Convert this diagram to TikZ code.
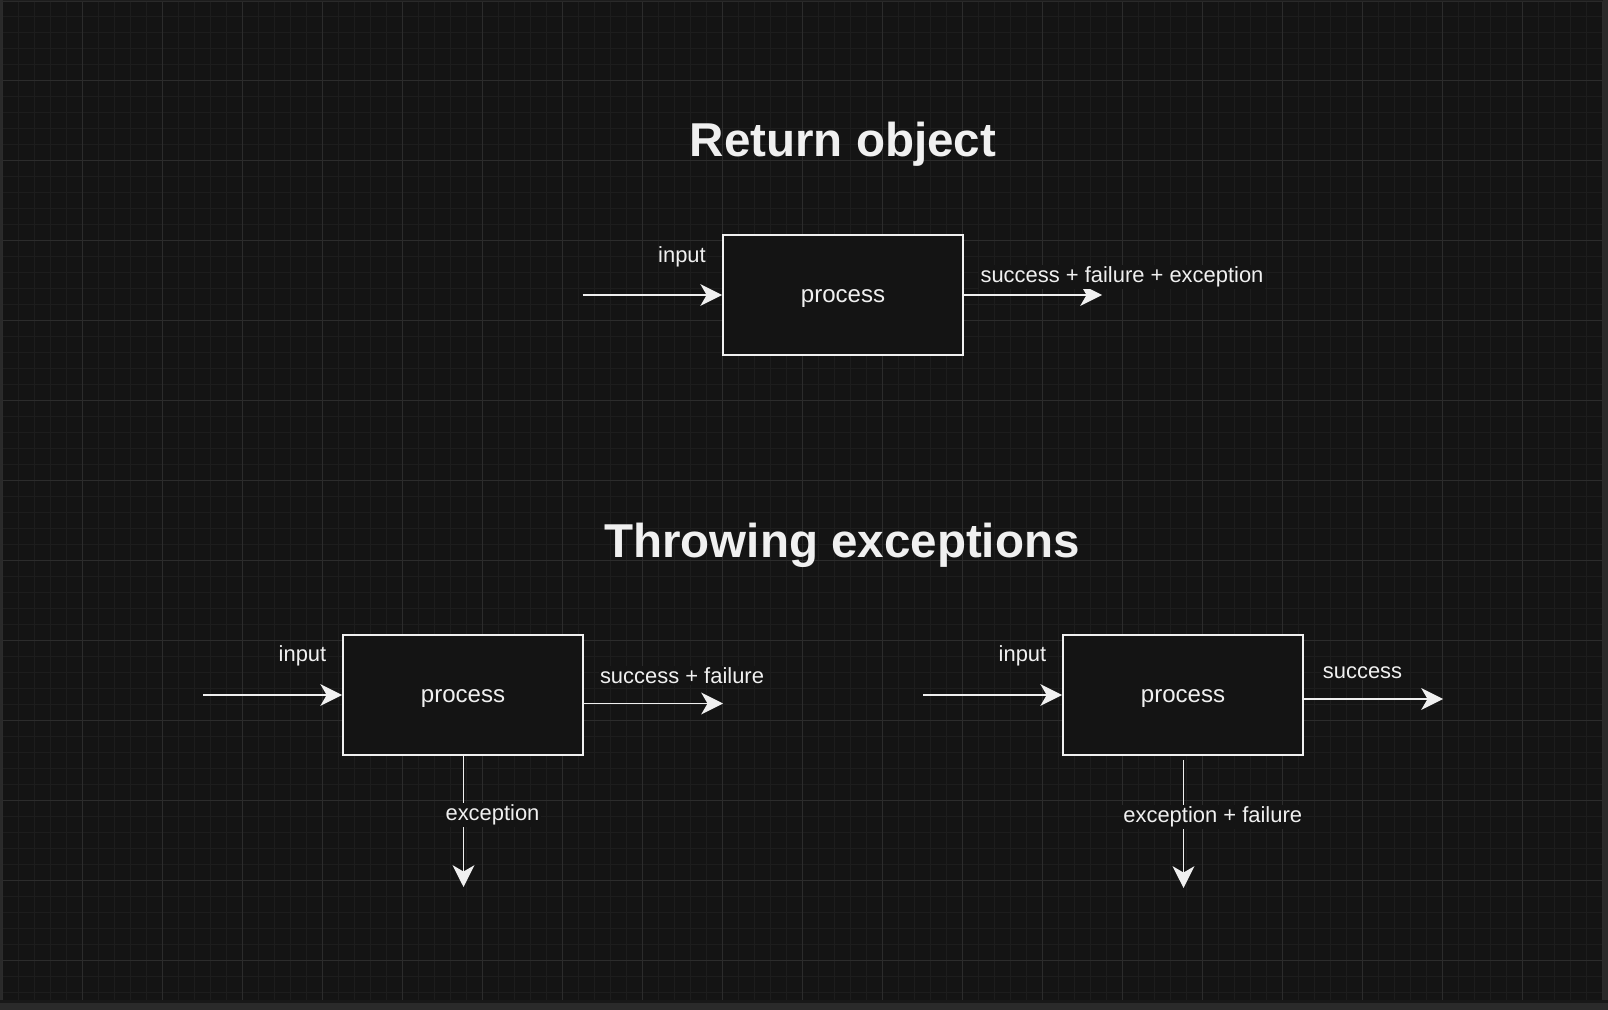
\documentclass[tikz,border=0pt]{standalone}
\usepackage{fontspec}
\setmainfont{Liberation Sans}
\usepackage{tikz}
\usetikzlibrary{arrows.meta}
\usetikzlibrary{positioning}
\definecolor{canvas}{RGB}{20,20,20}
\definecolor{frame}{RGB}{42,42,42}
\definecolor{seam}{RGB}{24,24,24}
\definecolor{minorcol}{RGB}{29,29,29}
\definecolor{majorcol}{RGB}{44,44,44}
\definecolor{ink}{RGB}{240,240,240}
\tikzset{procbox/.style={rectangle,draw=ink,fill=canvas,line width=1.2pt,minimum width=6cm,minimum height=3cm,text height=10.5pt,text depth=0pt,text=ink,font=\fontsize{17.1}{20}\selectfont}}
\tikzset{flow/.style={ink,line width=1.2pt,-{Stealth[length=15.5pt,width=15.5pt,inset=4.5pt]}}}
\tikzset{lbl/.style={text=ink,inner sep=1pt,font=\fontsize{15.6}{18}\selectfont}}
\tikzset{edgelbl/.style={lbl,fill=canvas}}
\tikzset{title/.style={text=ink,anchor=base,font=\fontsize{33.8}{40}\selectfont\bfseries}}
\tikzset{minorline/.style={minorcol,line width=0.7pt}}
\tikzset{majorline/.style={majorcol,line width=0.8pt}}

\begin{document}
\begin{tikzpicture}[x=0.025cm,y=-0.025cm]
  \useasboundingbox (0,0) rectangle (1608,1010);
  % Canvas
  \fill[frame] (0,0) rectangle (1608,1010);
  \fill[canvas] (2.7,2) rectangle (1603,1000);
  \fill[seam] (0,1000) rectangle (1608,1003);
  \foreach \i in {0,...,100}
    \draw[minorline] ({2.7+16*\i},2) -- ({2.7+16*\i},1000);
  \foreach \j in {0,...,62}
    \draw[minorline] (2.7,{0.7+16*\j}) -- (1603,{0.7+16*\j});
  \foreach \i in {0,...,20}
    \draw[majorline] ({2.7+80*\i},2) -- ({2.7+80*\i},1000);
  \foreach \j in {1,...,12}
    \draw[majorline] (2.7,{0.7+80*\j}) -- (1603,{0.7+80*\j});

  % Titles
  \node[title] (rettitle) at (843,157) {Return object};
  \node[title] (throwtitle) at (842,557) {Throwing exceptions};

  % Return object
  \node[procbox] (ret) at (843,295) {process};
  \coordinate (retin) at (582.5,295);
  \coordinate (retout) at (1102,295);
  \draw[flow] (retin) -- (ret.west);
  \draw[flow] (ret.east) -- (retout);
  \node[lbl] (retinlbl) at (682,257) {input};
  \node[edgelbl] (retoutlbl) at (1122,277) {success + failure + exception};

  % Throwing exceptions, left
  \node[procbox] (tl) at (463,695) {process};
  \coordinate (tlin) at (203,695);
  \coordinate (tlout) at (723,703.5);
  \coordinate (tlexc) at (463.5,887);
  \draw[flow] (tlin) -- (tl.west);
  \draw[flow] (tlout -| tl.east) -- (tlout);
  \draw[flow] (tl.south -| tlexc) -- (tlexc);
  \node[lbl] (tlinlbl) at (302.5,656) {input};
  \node[edgelbl] (tloutlbl) at (682,675.5) {success + failure};
  \node[edgelbl] (tlexclbl) at (492.5,815) {exception};

  % Throwing exceptions, right
  \node[procbox] (tr) at (1183,695) {process};
  \coordinate (trin) at (923,695);
  \coordinate (trout) at (1443,699);
  \coordinate (trexc) at (1183.5,888);
  \draw[flow] (trin) -- (tr.west);
  \draw[flow] (trout -| tr.east) -- (trout);
  \draw[flow] ([yshift=-2.8pt]tr.south -| trexc) -- (trexc);
  \node[lbl] (trinlbl) at (1022.5,656) {input};
  \node[edgelbl] (troutlbl) at (1362.5,672.5) {success};
  \node[edgelbl] (trexclbl) at (1212.7,817) {exception + failure};
\end{tikzpicture}
\end{document}
